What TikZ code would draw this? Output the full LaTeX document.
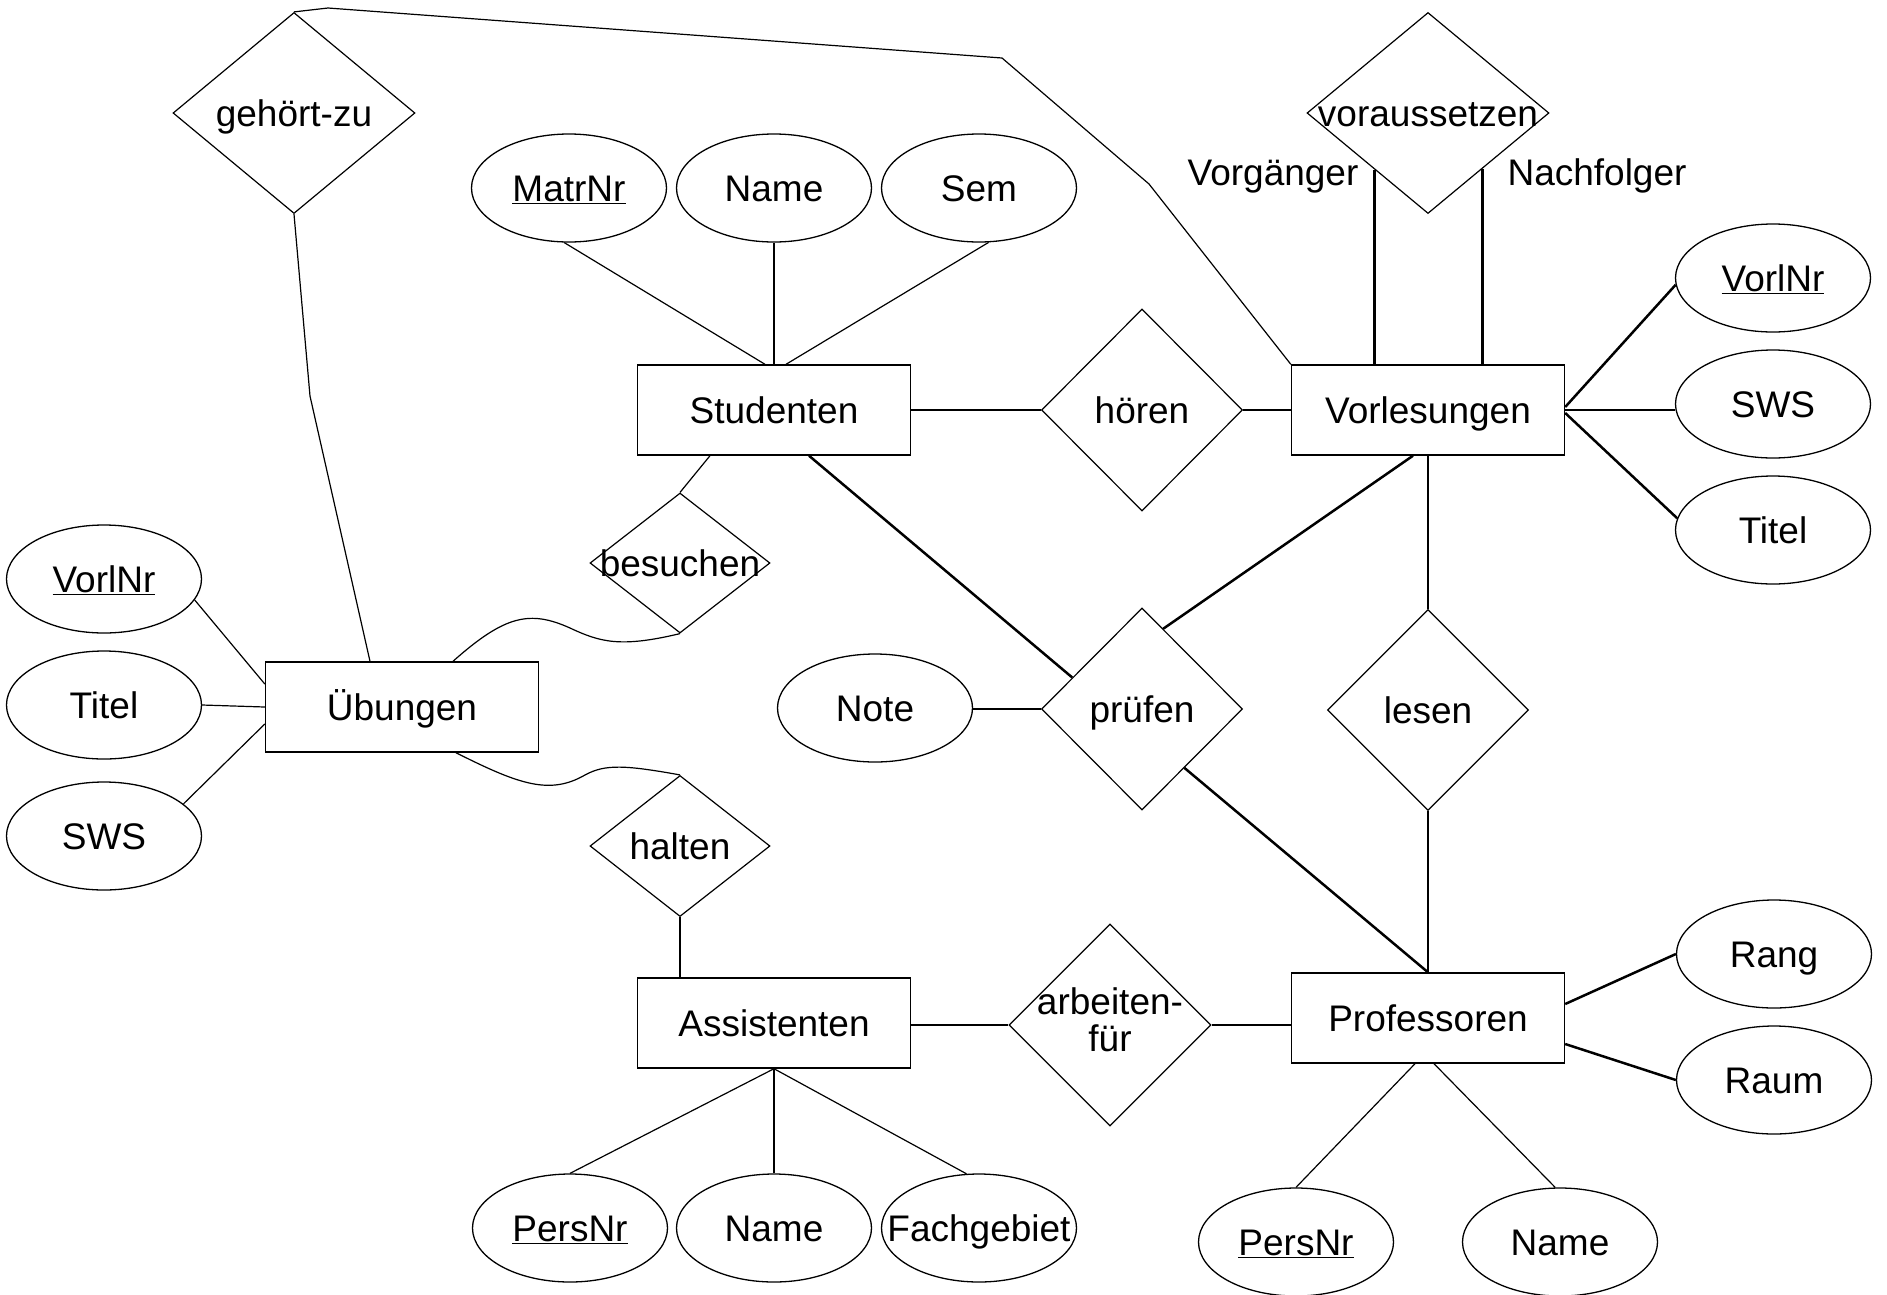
\documentclass[tikz,border=0pt]{standalone}
\usepackage{fontspec}
\setmainfont{Liberation Sans}
\usetikzlibrary{shapes.geometric,calc}
\begin{document}
\begin{tikzpicture}[x=1pt,y=-1pt,
  every node/.style={font=\fontsize{37}{35}\selectfont, inner sep=0pt},
  txt/.style={text height=27pt, text depth=0pt},
  ent/.style={draw, line width=1.4pt, rectangle, minimum width=273pt, minimum height=90pt, txt},
  rel/.style={draw, line width=1.2pt, diamond},
  attr/.style={draw, line width=1.3pt, ellipse, minimum width=195pt, minimum height=108pt, txt},
  thinl/.style={line width=1.2pt},
  medl/.style={line width=1.8pt},
  thickl/.style={line width=2.5pt}]
\useasboundingbox (0,0) rectangle (1887,1294);
% entities
\node[ent] (stud) at (774,410) {Studenten};
\node[ent] (vorl) at (1428,410) {Vorlesungen};
\node[ent] (ueb) at (402,707) {Übungen};
\node[ent] (ass) at (774,1023) {Assistenten};
\node[ent] (prof) at (1428,1018) {Professoren};
% relationships
\node[rel, txt, minimum width=242pt, minimum height=201pt] (gehoert) at (294,113) {\makebox[0pt]{gehört-zu}};
\node[rel, txt, minimum width=242pt, minimum height=201pt] (vorauss) at (1428,113) {\makebox[0pt]{voraussetzen}};
\node[rel, txt, minimum width=201pt, minimum height=202pt] (hoeren) at (1142,410) {\makebox[0pt]{hören}};
\node[rel, txt, minimum width=180pt, minimum height=140pt] (besuchen) at (680,563) {\makebox[0pt]{besuchen}};
\node[rel, txt, minimum width=180pt, minimum height=141pt] (halten) at (680,846) {\makebox[0pt]{halten}};
\node[rel, txt, minimum width=201pt, minimum height=202pt] (pruefen) at (1142,709) {\makebox[0pt]{prüfen}};
\node[rel, txt, minimum width=201pt, minimum height=201pt] (lesen) at (1428,710) {\makebox[0pt]{lesen}};
\node[rel, minimum width=202pt, minimum height=202pt] (arbeiten) at (1110,1025) {\makebox[0pt]{\begin{tabular}{@{}c@{}}arbeiten-\\für\end{tabular}}};
% attributes
\node[attr] (matr) at (569,188) {\makebox[0pt]{\underline{MatrNr}}};
\node[attr] (sname) at (774,188) {\makebox[0pt]{Name}};
\node[attr] (sem) at (979,188) {\makebox[0pt]{Sem}};
\node[attr] (vnr) at (1773,278) {\makebox[0pt]{\underline{VorlNr}}};
\node[attr] (vsws) at (1773,404) {\makebox[0pt]{SWS}};
\node[attr] (vtitel) at (1773,530) {\makebox[0pt]{Titel}};
\node[attr] (unr) at (104,579) {\makebox[0pt]{\underline{VorlNr}}};
\node[attr] (utitel) at (104,705) {\makebox[0pt]{Titel}};
\node[attr] (usws) at (104,836) {\makebox[0pt]{SWS}};
\node[attr] (note) at (875,708) {\makebox[0pt]{Note}};
\node[attr] (rang) at (1774,954) {\makebox[0pt]{Rang}};
\node[attr] (raum) at (1774,1080) {\makebox[0pt]{Raum}};
\node[attr] (apers) at (570,1228) {\makebox[0pt]{\underline{PersNr}}};
\node[attr] (aname) at (774,1228) {\makebox[0pt]{Name}};
\node[attr] (afach) at (979,1228) {\makebox[0pt]{Fachgebiet}};
\node[attr] (ppers) at (1296,1242) {\makebox[0pt]{\underline{PersNr}}};
\node[attr] (pname) at (1560,1242) {\makebox[0pt]{Name}};
% role labels
\node[anchor=base] (vg) at (1273,185) {Vorgänger};
\node[anchor=base] (nf) at (1597,185) {Nachfolger};
% bend points
\coordinate (g1) at (328,8);
\coordinate (g2) at (1002,58);
\coordinate (g3) at (1149,184);
\coordinate (g4) at (310,396);
% Studenten attributes
\draw[thinl] ($(stud.north)+(-9,0)$) -- (matr.-95);
\draw[thinl] (stud.north) -- (sname.south);
\draw[thinl] ($(stud.north)+(12,0)$) -- (sem.-80);
% hoeren
\draw[thickl] (stud.east) -- (hoeren.west);
\draw[thickl] (hoeren.east) -- (vorl.west);
% gehoert-zu
\draw[thinl] (gehoert.north) -- (g1) -- (g2) -- (g3) -- (vorl.north west);
\draw[thinl] (gehoert.south) -- (g4) -- ($(ueb.north)+(-32,0)$);
% voraussetzen
\coordinate (pv) at ($(vorauss.west)!0.56!(vorauss.south)$);
\coordinate (pn) at ($(vorauss.east)!0.55!(vorauss.south)$);
\draw[thickl] (pv) -- (pv |- vorl.north);
\draw[thickl] (pn) -- (pn |- vorl.north);
% Vorlesungen attributes
\draw[thickl] ($(vorl.east)+(0,-3)$) -- (vnr.184);
\draw[thickl] (vorl.east) -- (vorl.east -| vsws.west);
\draw[thickl] ($(vorl.east)+(0,3)$) -- (vtitel.173);
% besuchen
\draw[thinl] ($(stud.south)+(-64,0)$) -- (besuchen.north);
\draw[thinl] ($(ueb.north)+(51,0)$) .. controls (505,615) and (530,610) .. (570,628)
   .. controls (600,642) and (620,648) .. (besuchen.south);
% halten
\draw[thinl] ($(ueb.south)+(54,0)$) .. controls (520,785) and (550,795) .. (585,775)
   .. controls (605,764) and (625,765) .. (halten.north);
\draw[thinl] (halten.south) -- (halten.south |- ass.north);
% arbeiten-fuer
\draw[thinl] (arbeiten.west -| ass.east) -- (arbeiten.west);
\draw[thinl] (arbeiten.east) -- (arbeiten.east -| prof.west);
% pruefen
\draw[thickl] ($(stud.south)+(35,0)$) -- ($(pruefen.west)!0.31!(pruefen.north)$);
\draw[thickl] ($(vorl.south)+(-15,0)$) -- ($(pruefen.north)!0.21!(pruefen.east)$);
\draw[thickl] ($(pruefen.east)!0.58!(pruefen.south)$) -- (prof.north);
\draw[thickl] (pruefen.west -| note.east) -- (pruefen.west);
% lesen
\draw[medl] (vorl.south) -- (lesen.north);
\draw[medl] (lesen.south) -- (prof.north);
% Professoren attributes
\draw[thickl] ($(prof.east)+(0,-14)$) -- (rang.west);
\draw[thickl] ($(prof.east)+(0,26)$) -- (raum.west);
\draw[thinl] ($(prof.south)+(-13,0)$) -- (ppers.north);
\draw[thinl] ($(prof.south)+(6,0)$) -- (pname.95);
% Assistenten attributes
\draw[thinl] (ass.south) -- (apers.north);
\draw[thinl] (ass.south) -- (aname.north);
\draw[thinl] (ass.south) -- (afach.103);
% Uebungen attributes
\draw[thinl] ($(ueb.west)+(0,-23)$) -- (unr.-13);
\draw[thinl] (ueb.west) -- (utitel.east);
\draw[thinl] ($(ueb.west)+(0,17)$) -- (usws.22);
\end{tikzpicture}
\end{document}
